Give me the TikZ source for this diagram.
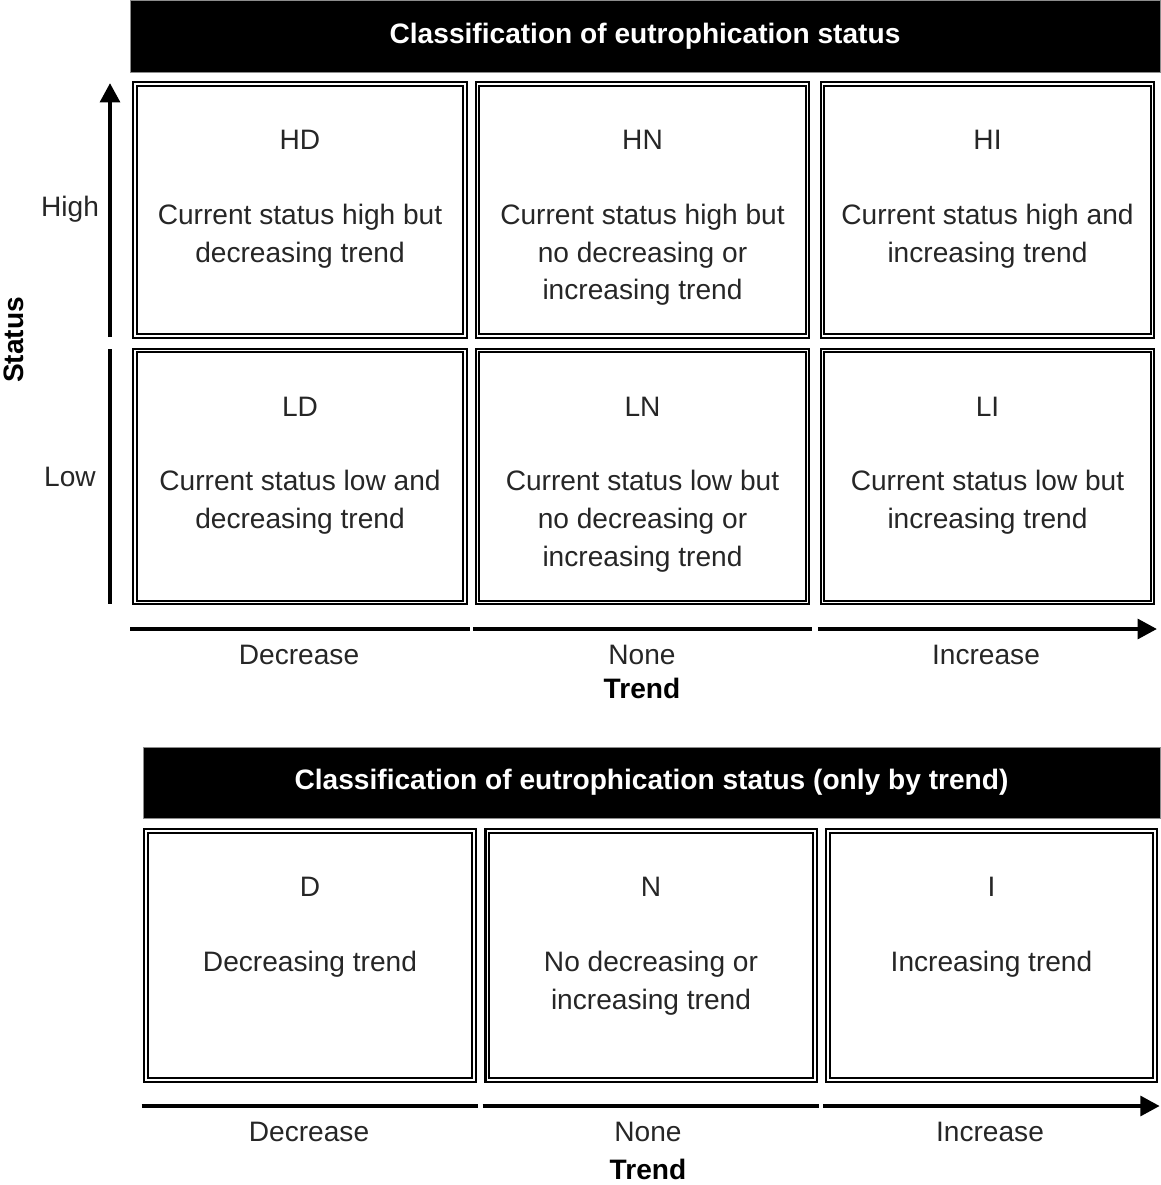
\documentclass[tikz,border=0pt]{standalone}
\usepackage{fontspec}
\setmainfont{Liberation Sans}
\usetikzlibrary{arrows.meta,positioning}

\begin{document}
\begin{tikzpicture}[
  x=0.02cm, y=-0.02cm,
  font=\fontsize{16}{21.5}\selectfont,
  cell/.style={draw, line width=1.2pt, double, double distance=0.9pt, minimum width=6.6cm, minimum height=5.04cm, inner sep=0pt},
  bcell/.style={cell, minimum width=6.55cm, minimum height=4.98cm},
  txt/.style={align=center, inner sep=0pt, text=black!85},
  bar/.style={fill=black, draw=black!45, line width=0.4pt, text=white, font=\fontsize{16}{20}\selectfont\bfseries},
  axis/.style={line width=2.6pt},
  axtip/.style={axis, -{Triangle[length=11pt,width=11pt]}},
  haxis/.style={axis, shorten <=-2pt, shorten >=-2pt},
  haxtip/.style={axtip, shorten <=-2pt, shorten >=-2pt},
  ttl/.style={font=\fontsize{16}{20}\selectfont\bfseries}
]
\useasboundingbox (0,0) rectangle (1160,1185);

% by status and trend
\node[bar, minimum width=20.6cm, minimum height=1.44cm] (title) at (645,36) {Classification of eutrophication status};

\node[cell] (hd) at (300,210) {};
\node[cell] (hn) at (642.5,210) {};
\node[cell] (hi) at (987.5,210) {};
\node[cell] (ld) at (300,476.5) {};
\node[cell] (ln) at (642.5,476.5) {};
\node[cell] (li) at (987.5,476.5) {};

\node[txt, below=0.94cm of hd.north] (hdt) {HD\\[21pt]Current status high but\\decreasing trend};
\node[txt, below=0.94cm of hn.north] (hnt) {HN\\[21pt]Current status high but\\no decreasing or\\increasing trend};
\node[txt, below=0.94cm of hi.north] (hit) {HI\\[21pt]Current status high and\\increasing trend};
\node[txt, below=0.94cm of ld.north] (ldt) {LD\\[21pt]Current status low and\\decreasing trend};
\node[txt, below=0.94cm of ln.north] (lnt) {LN\\[21pt]Current status low but\\no decreasing or\\increasing trend};
\node[txt, below=0.94cm of li.north] (lit) {LI\\[21pt]Current status low but\\increasing trend};

\coordinate (sy) at (110,0);
\draw[axis] (sy |- ld.south) -- (sy |- ld.north);
\draw[axtip] (sy |- hd.south) -- (sy |- hd.north);
\node[txt] (high) at (70,209) {High};
\node[txt] (low) at (70,477) {Low};
\node[ttl, rotate=90] (status) at (14,340) {Status};

\coordinate (ax) at (0,629);
\draw[haxis] (ld.west |- ax) -- (ld.east |- ax);
\draw[haxis] (ln.west |- ax) -- (ln.east |- ax);
\draw[haxtip] (li.west |- ax) -- (li.east |- ax);
\node[txt] (dec) at (299,655) {Decrease};
\node[txt] (none) at (642,655) {None};
\node[txt] (inc) at (986,655) {Increase};
\node[ttl] (trend) at (642,688) {Trend};

% by trend only
\node[bar, minimum width=20.34cm, minimum height=1.42cm] (btitle) at (651.5,782.5) {Classification of eutrophication status (only by trend)};

\node[bcell] (bd) at (310,955.5) {};
\node[bcell] (bn) at (651,955.5) {};
\node[bcell] (bi) at (991.5,955.5) {};

\node[txt, below=0.94cm of bd.north] (bdt) {D\\[21pt]Decreasing trend};
\node[txt, below=0.94cm of bn.north] (bnt) {N\\[21pt]No decreasing or\\increasing trend};
\node[txt, below=0.94cm of bi.north] (bit) {I\\[21pt]Increasing trend};

\coordinate (bx) at (0,1106);
\draw[haxis] (bd.west |- bx) -- (bd.east |- bx);
\draw[haxis] (bn.west |- bx) -- (bn.east |- bx);
\draw[haxtip] (bi.west |- bx) -- (bi.east |- bx);
\node[txt] (bdec) at (309,1132) {Decrease};
\node[txt] (bnone) at (648,1132) {None};
\node[txt] (binc) at (990,1132) {Increase};
\node[ttl] (btrend) at (648,1169) {Trend};
\end{tikzpicture}
\end{document}
